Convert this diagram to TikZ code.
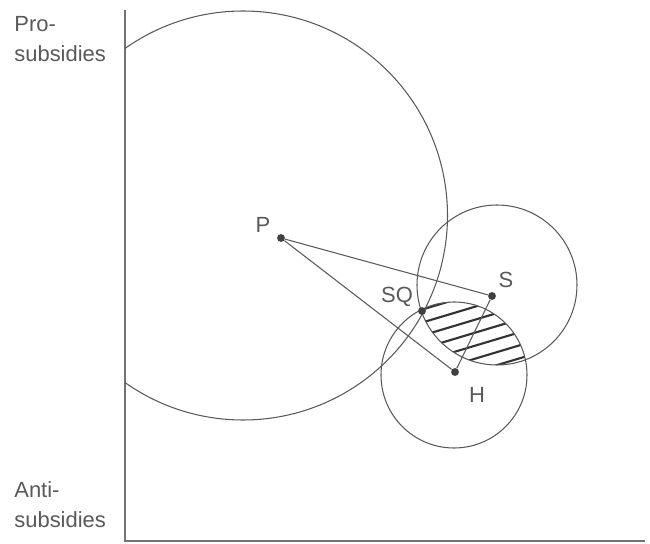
\documentclass[tikz,border=0pt]{standalone}
\usepackage{fontspec}
\setmainfont{Liberation Sans}
\tikzset{
	dot/.style={circle, fill=black!75, inner sep=0pt, minimum size=4.5pt},
	lbl/.style={text=black!65, font=\fontsize{12.5}{17}\selectfont, inner sep=0pt},
	ideal/.style={draw=black!65, line width=0.6pt}
}
\begin{document}
\begin{tikzpicture}[x=0.02cm, y=0.02cm]
		\useasboundingbox (0,0) rectangle (650,-544);
		%draw coordinate system
		\draw [black!55, line width=0.9pt] (125,-10) -- (125,-541) -- (645,-541);
		\node[lbl, anchor=north west, align=left] (pro) at (14,-16) {Pro-\\subsidies};
		\node[lbl, anchor=north west, align=left] (anti) at (14,-481) {Anti-\\subsidies};
		%draw shaded win set
		\begin{scope}
			\clip (497,-285) circle (80);
			\clip (454,-375) circle (73);
			\foreach \k in {-7,...,8}
				\draw [black!80, line width=1.2pt] (380,-335.2+13*\k) -- (560,-281.2+13*\k);
		\end{scope}
		%draw indifference circles
		\begin{scope}
			\clip (125,0) rectangle (650,-544);
			\draw [ideal] (243,-215.5) circle (204.5);
		\end{scope}
		\draw [ideal] (497,-285) circle (80);
		\draw [ideal] (454,-375) circle (73);
		%draw ideal points
		\node[dot] (P) at (281,-238) {};
		\node[dot] (S) at (492,-296) {};
		\node[dot] (H) at (455,-372) {};
		\node[dot] (SQ) at (422,-311) {};
		\draw [ideal] (P) -- (S) -- (H) -- (P);
		%draw labels
		\node[lbl] (Plbl) at (263,-225) {P};
		\node[lbl] (Slbl) at (506,-280) {S};
		\node[lbl] (SQlbl) at (397,-297) {SQ};
		\node[lbl] (Hlbl) at (477,-395) {H};
	\end{tikzpicture}
\end{document}
